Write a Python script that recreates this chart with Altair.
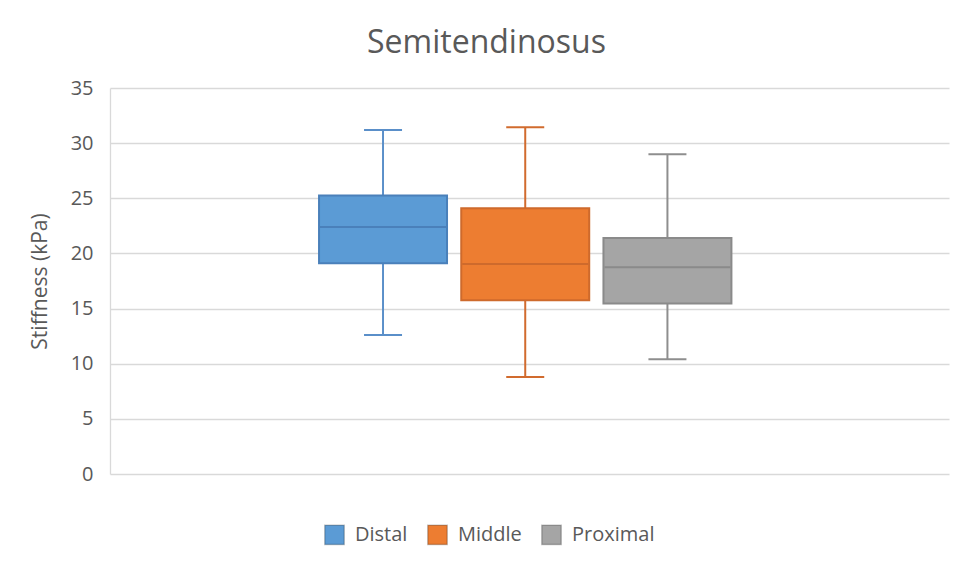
import altair as alt
import pandas as pd

# ---- data ----
categories = ["Distal", "Middle", "Proximal"]
whisker_low = [12.6, 8.8, 10.4]
q1 = [19.1, 15.75, 15.45]
median = [22.4, 19.05, 18.75]
q3 = [25.25, 24.1, 21.4]
whisker_high = [31.2, 31.45, 29.0]
y_ticks = [0, 5, 10, 15, 20, 25, 30, 35]

# empty slots on either side of the group, as Excel leaves them
x_slots = ["_left"] + categories + ["_right"]

# ---- styles ----
fill_colors = ["#5B9BD5", "#ED7D31", "#A5A5A5"]
edge_colors = ["#4A80BA", "#CE6A2C", "#8A8A8A"]
whisker_colors = ["#5A8FC9", "#D16B2E", "#8E8E8E"]
TEXT = "#595959"
FONT = "Open Sans"

df = pd.DataFrame({
    "group": categories,
    "low": whisker_low,
    "q1": q1,
    "median": median,
    "q3": q3,
    "high": whisker_high,
})

x = alt.X("group:N",
          scale=alt.Scale(domain=x_slots, paddingInner=0.1,
                          paddingOuter=0.5, align=0.47),
          axis=None)
yscale = alt.Scale(domain=[0, 35], nice=False)
yaxis = alt.Axis(values=y_ticks, title="Stiffness (kPa)")

def y(field):
    return alt.Y(f"{field}:Q", scale=yscale, axis=yaxis)

whisk_color = alt.Color("group:N",
                        scale=alt.Scale(domain=categories, range=whisker_colors),
                        legend=None)
edge_color = alt.Color("group:N",
                       scale=alt.Scale(domain=categories, range=edge_colors),
                       legend=None)

base = alt.Chart(df)

whisk_lo = base.mark_rule(strokeWidth=2).encode(x=x, y=y("low"), y2="q1:Q", color=whisk_color)
whisk_hi = base.mark_rule(strokeWidth=2).encode(x=x, y=y("q3"), y2="high:Q", color=whisk_color)
cap_lo = base.mark_tick(size=38, thickness=2, opacity=1).encode(x=x, y=y("low"), color=whisk_color)
cap_hi = base.mark_tick(size=38, thickness=2, opacity=1).encode(x=x, y=y("high"), color=whisk_color)

legend = alt.Legend(
    orient="none", legendX=214, legendY=436, direction="horizontal",
    title=None, symbolType="square", symbolSize=380,
    symbolStrokeColor="rgba(0,0,0,0.22)", symbolStrokeWidth=1.5,
    symbolOpacity=1, labelFontSize=20, labelColor=TEXT, labelFont=FONT,
    labelOffset=10, columnPadding=16,
)

box = base.mark_bar(strokeWidth=2, opacity=1).encode(
    x=x, y=y("q1"), y2="q3:Q",
    color=alt.Color("group:N", scale=alt.Scale(domain=categories, range=fill_colors), legend=legend),
)
box_edge = base.mark_bar(strokeWidth=2, filled=False, opacity=1).encode(
    x=x, y=y("q1"), y2="q3:Q", color=edge_color,
)
med = base.mark_tick(size=126, thickness=2, opacity=1).encode(x=x, y=y("median"), color=edge_color)

chart = alt.layer(whisk_lo, whisk_hi, cap_lo, cap_hi, box, box_edge, med).resolve_scale(
    color="independent"
).properties(
    width=839, height=386,
    autosize=alt.AutoSizeParams(type="none"),
    padding={"left": 110, "top": 88, "right": 10, "bottom": 104},
    title=alt.TitleParams("Semitendinosus", font=FONT, fontSize=32,
                          fontWeight="normal", color=TEXT, anchor="middle",
                          dx=-43, offset=18),
).configure_view(stroke=None).configure_axisY(
    grid=True, gridColor="#D9D9D9", gridWidth=1.3,
    domain=True, domainColor="#D9D9D9", domainWidth=1.3,
    ticks=False, labelPadding=17, labelFont=FONT, labelFontSize=20,
    labelColor=TEXT, titleFont=FONT, titleFontSize=21, titleColor=TEXT,
    titleFontWeight="normal", titlePadding=20,
)

chart.save("out.html", embed_options={"renderer": "svg", "actions": False})
